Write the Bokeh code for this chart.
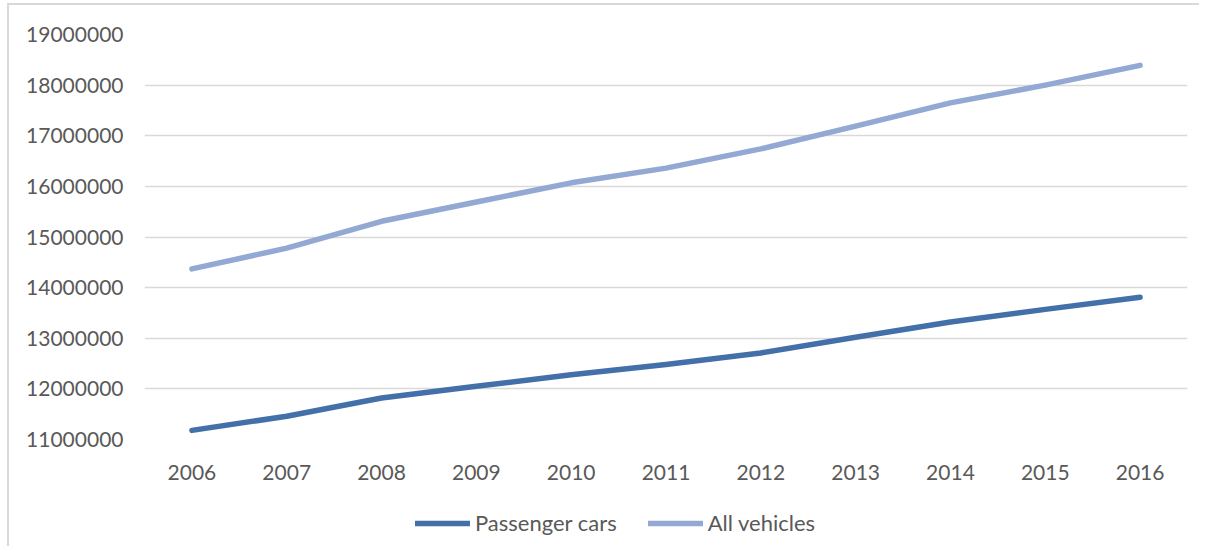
from bokeh.plotting import figure
from bokeh.layouts import column
from bokeh.models import ColumnDataSource, Legend, LegendItem, FixedTicker, Range1d, FactorRange
from bokeh.embed import file_html
from bokeh.resources import INLINE

years = ["2006", "2007", "2008", "2009", "2010", "2011", "2012", "2013", "2014", "2015", "2016"]
passenger_cars = [11180000, 11460000, 11820000, 12050000, 12280000, 12480000, 12710000, 13020000, 13320000, 13570000, 13810000]
all_vehicles = [14370000, 14780000, 15310000, 15690000, 16070000, 16360000, 16740000, 17190000, 17650000, 18000000, 18390000]
y_ticks = [11000000, 12000000, 13000000, 14000000, 15000000, 16000000, 17000000, 18000000, 19000000]
series_names = ["Passenger cars", "All vehicles"]

FONT = "Lato"
TEXT = "#595959"
C_PASS = "#4370A8"
C_ALL = "#93A8D3"
LW = 5.5

src = ColumnDataSource(dict(year=years, pc=passenger_cars, av=all_vehicles))

p = figure(width=1190, height=484, x_range=FactorRange(*years, range_padding=0),
           y_range=Range1d(11000000, 19000000),
           output_backend="svg", toolbar_location=None,
           min_border_left=135, min_border_right=12, min_border_top=29, min_border_bottom=50)
p.x_range.factor_padding = 0
p.outline_line_color = None
p.background_fill_color = "white"
p.border_fill_color = "white"

p.line("year", "pc", source=src, line_color=C_PASS, line_width=LW, line_cap="round", line_join="round")
p.line("year", "av", source=src, line_color=C_ALL, line_width=LW, line_cap="round", line_join="round")

p.yaxis.ticker = FixedTicker(ticks=y_ticks)
p.yaxis.formatter.use_scientific = False
p.ygrid.ticker = FixedTicker(ticks=y_ticks)
p.ygrid.grid_line_color = "#d9d9d9"
p.ygrid.grid_line_width = 1.5
p.xgrid.grid_line_color = None

for ax in (p.xaxis, p.yaxis):
    ax.axis_line_color = None
    ax.major_tick_line_color = None
    ax.minor_tick_line_color = None
    ax.major_label_text_font = FONT
    ax.major_label_text_font_size = "21px"
    ax.major_label_text_color = TEXT
p.yaxis.major_label_standoff = 15
p.xaxis.major_label_standoff = 19

# legend strip below the chart (its lines use the same data, kept out of view)
lg = figure(width=1190, height=57, x_range=p.x_range, y_range=Range1d(0, 1),
            output_backend="svg", toolbar_location=None,
            x_axis_type=None, y_axis_type=None,
            min_border_left=0, min_border_right=0, min_border_top=0, min_border_bottom=0)
lg.outline_line_color = None
lg.background_fill_color = "white"
lg.border_fill_color = "white"
lg.grid.visible = False
lr1 = lg.line("year", "pc", source=src, line_color=C_PASS, line_width=LW, line_cap="round")
lr2 = lg.line("year", "av", source=src, line_color=C_ALL, line_width=LW, line_cap="round")

legend = Legend(items=[LegendItem(label=series_names[0], renderers=[lr1]),
                       LegendItem(label=series_names[1], renderers=[lr2])],
                orientation="horizontal", location=(271, 10),
                label_text_font=FONT, label_text_font_size="22px", label_text_color=TEXT,
                glyph_width=55, glyph_height=20, label_standoff=5, spacing=31,
                padding=0, margin=0, border_line_alpha=0, background_fill_alpha=0)
lg.add_layout(legend, "center")

layout = column(p, lg, spacing=0)
layout.styles = {"border-left": "2px solid #d9d9d9", "border-top": "2px solid #d9d9d9",
                 "margin-left": "7px", "margin-top": "3px"}

open("out.html", "w").write(file_html(layout, INLINE))
